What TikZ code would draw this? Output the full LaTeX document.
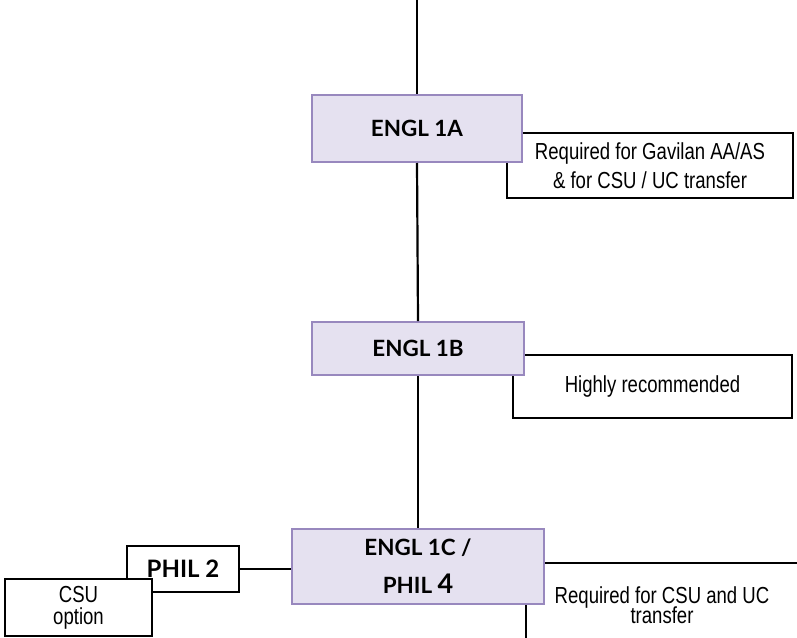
\documentclass[tikz,border=0pt]{standalone}
\usepackage{fontspec}
\setmainfont{Lato}
\newfontfamily\notefont[FakeStretch=0.8]{Liberation Sans}
\newcommand\tightlines{\lineskiplimit=-20pt\relax}
\definecolor{coursefill}{RGB}{229,225,240}
\definecolor{courseline}{RGB}{152,136,190}

\begin{document}
\begin{tikzpicture}[x=0.5pt, y=-0.5pt,
    course/.style={draw=courseline, fill=coursefill, line width=1pt, inner sep=0pt, align=center, font=\fontsize{11.2}{19}\selectfont\bfseries},
    note/.style={draw, fill=white, line width=1.1pt, inner sep=0pt, align=center, font=\fontsize{11.6}{11}\notefont\tightlines},
    link/.style={line width=1.1pt}]

    \useasboundingbox (0,0) rectangle (797,637);
    \clip (0,0) rectangle (797,637);

    % notes first, they sit behind the course boxes
    \node [note, minimum width=143pt, minimum height=32.5pt] (reqA) at (650,165.5) {Required for Gavilan AA/AS\\[3.5pt] \& for CSU / UC transfer};
    \node [note, minimum width=139.5pt, minimum height=31.5pt] (recB) at (652.5,386.5) {Highly recommended};
    \node [note, minimum width=136pt, minimum height=42pt, font=\fontsize{11.6}{10}\notefont\tightlines] (reqC) at (662,605) {Required for CSU and UC\\transfer};

    \node [course, minimum width=105pt, minimum height=33.5pt] (englA) at (417,128.5) {ENGL 1A};
    \node [course, minimum width=106pt, minimum height=26.5pt] (englB) at (418,348.5) {ENGL 1B};
    \node [course, minimum width=126pt, minimum height=37.5pt] (englC) at (418,566.5) {ENGL 1C /\\PHIL {\fontsize{13.5}{13}\selectfont 4}};

    \node [course, draw=black, fill=white, line width=1.1pt, minimum width=56pt, minimum height=23pt, font=\fontsize{12}{12}\selectfont\bfseries] (phil) at (183,569) {PHIL 2};
    \node [note, minimum width=73.5pt, minimum height=28.5pt] (csu) at (78.5,607.5) {CSU\\option};

    \coordinate (top) at (417,0);
    \draw [link] (top) -- (englA.north);
    \draw [link] (englA.south) -- (englB.north);
    \draw [link] (englB.south) -- (englC.north);
    \draw [link] (phil.east) -- (phil.east -| englC.west);

\end{tikzpicture}
\end{document}
